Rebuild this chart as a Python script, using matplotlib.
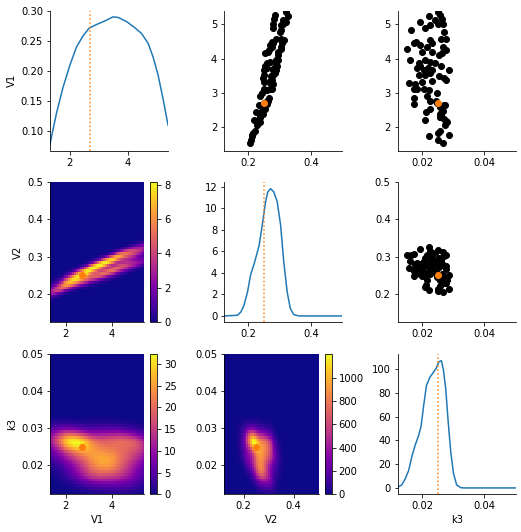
import numpy as np
import matplotlib
matplotlib.use("Agg")
import matplotlib.pyplot as plt

# --------------------------------------------------------------------------- #
# particles (the last rows sit under other dots)
# --------------------------------------------------------------------------- #
v1 = [5.35, 5.26, 5.23, 5.12, 5.16, 5.06, 4.97, 5.00, 5.02, 4.83,
      4.90, 4.78, 4.46, 4.49, 4.27, 4.40, 4.54, 4.46, 4.56, 4.57,
      4.35, 4.35, 4.20, 4.20, 4.25, 4.11, 4.16, 3.95, 3.87, 3.96,
      3.89, 3.87, 3.72, 3.77, 3.68, 3.72, 3.68, 3.77, 3.66, 3.53,
      3.53, 3.58, 3.50, 3.44, 3.37, 3.29, 3.25, 3.31, 3.34, 3.12,
      3.10, 3.10, 3.08, 3.01, 2.86, 2.91, 2.67, 2.77, 2.64, 2.53,
      2.43, 2.38, 2.29, 2.21, 2.14, 1.73, 1.83, 1.64, 1.55, 1.76,
      2.35, 2.62, 2.18, 2.30, 2.66, 2.42, 2.70,
      2.06, 2.25, 2.48, 2.58, 1.88, 2.75]
v2 = [0.319, 0.286, 0.326, 0.310, 0.281, 0.321, 0.304, 0.277, 0.311, 0.304,
      0.278, 0.301, 0.306, 0.276, 0.305, 0.270, 0.314, 0.279, 0.287, 0.305,
      0.276, 0.305, 0.263, 0.296, 0.266, 0.295, 0.253, 0.289, 0.260, 0.295,
      0.268, 0.287, 0.282, 0.252, 0.288, 0.258, 0.279, 0.292, 0.251, 0.280,
      0.249, 0.285, 0.272, 0.247, 0.274, 0.269, 0.279, 0.249, 0.270, 0.268,
      0.249, 0.275, 0.260, 0.245, 0.266, 0.238, 0.260, 0.262, 0.233, 0.254,
      0.224, 0.247, 0.237, 0.217, 0.237, 0.210, 0.214, 0.207, 0.205, 0.212,
      0.236, 0.240, 0.230, 0.238, 0.246, 0.241, 0.250,
      0.228, 0.233, 0.244, 0.247, 0.220, 0.258]
k3 = [0.0251, 0.0259, 0.0223, 0.0243, 0.0265, 0.0192, 0.0227, 0.0251, 0.0268, 0.0164,
      0.0211, 0.0270, 0.0173, 0.0182, 0.0153, 0.0195, 0.0227, 0.0232, 0.0262, 0.0276,
      0.0268, 0.0216, 0.0200, 0.0232, 0.0276, 0.0254, 0.0265, 0.0160, 0.0189, 0.0211,
      0.0227, 0.0243, 0.0184, 0.0195, 0.0205, 0.0218, 0.0232, 0.0262, 0.0286, 0.0189,
      0.0211, 0.0227, 0.0254, 0.0270, 0.0276, 0.0157, 0.0178, 0.0200, 0.0232, 0.0184,
      0.0173, 0.0205, 0.0222, 0.0249, 0.0173, 0.0216, 0.0173, 0.0227, 0.0270, 0.0227,
      0.0213, 0.0259, 0.0259, 0.0208, 0.0279, 0.0222, 0.0251, 0.0251, 0.0268, 0.0286,
      0.0261, 0.0268, 0.0276, 0.0257, 0.0272, 0.0262, 0.0249,
      0.0274, 0.0270, 0.0266, 0.0258, 0.0258, 0.0245]

names = ["V1", "V2", "k3"]
truth = [2.7, 0.25, 0.025]
limits = [(1.32, 5.4), (0.123, 0.5), (0.0122, 0.05)]

# marginal densities
v1_grid = [1.32, 1.54, 1.77, 2.00, 2.23, 2.46, 2.67, 2.92, 3.21, 3.50,
           3.68, 3.97, 4.25, 4.49, 4.72, 4.89, 5.06, 5.24, 5.40]
v1_dens = [0.078, 0.129, 0.173, 0.209, 0.240, 0.259, 0.272, 0.278, 0.284, 0.291,
           0.290, 0.283, 0.273, 0.263, 0.246, 0.223, 0.193, 0.151, 0.110]
v2_grid = [0.123, 0.165, 0.176, 0.186, 0.197, 0.207, 0.220, 0.234, 0.244, 0.255,
           0.262, 0.271, 0.281, 0.292, 0.303, 0.313, 0.324, 0.334, 0.345, 0.361, 0.5]
v2_dens = [0.0, 0.06, 0.37, 0.99, 2.2, 3.8, 5.0, 6.5, 8.4, 10.6,
           11.5, 11.8, 11.5, 10.6, 8.4, 5.0, 2.2, 0.68, 0.12, 0.0, 0.0]
k3_grid = [0.0122, 0.0135, 0.0146, 0.0157, 0.0168, 0.0178, 0.0189, 0.0197, 0.0205, 0.0214,
           0.0225, 0.0236, 0.0246, 0.0254, 0.0262, 0.0268, 0.0276, 0.0283, 0.0292, 0.0301,
           0.0311, 0.0324, 0.0335, 0.0500]
k3_dens = [0.6, 2.5, 7.6, 14.6, 27.0, 36.0, 44.0, 52.0, 69.0, 86.0,
           93.0, 97.0, 101.0, 106.0, 107.0, 100.0, 83.0, 58.0, 30.0, 11.8,
           2.5, 0.2, 0.0, 0.0]

yticks_diag = [np.arange(0.10, 0.31, 0.05), np.arange(0, 13, 2), np.arange(0, 101, 20)]
ticks = [[2, 4], [0.2, 0.4], [0.02, 0.04]]
yticks_off = [[2, 3, 4, 5], [0.2, 0.3, 0.4, 0.5], [0.02, 0.03, 0.04, 0.05]]
cbar_ticks = {(1, 0): [0, 2, 4, 6, 8],
              (2, 0): [0, 5, 10, 15, 20, 25, 30],
              (2, 1): [0, 200, 400, 600, 800, 1000]}

N_EFF = 45  # effective sample size used for the Silverman bandwidth


def kde_2d(x, y, xlim, ylim, num=50, n_eff=N_EFF):
    """Gaussian KDE (full covariance, Silverman) on a num x num grid."""
    pts = np.vstack([x, y])
    cov = np.cov(pts) * n_eff ** (-2.0 / 6.0)
    inv = np.linalg.inv(cov)
    norm = 1.0 / (2 * np.pi * np.sqrt(np.linalg.det(cov)))
    xs = np.linspace(*xlim, num)
    ys = np.linspace(*ylim, num)
    X, Y = np.meshgrid(xs, ys)
    d = np.stack([X.ravel(), Y.ravel()])[:, :, None] - pts[:, None, :]
    q = np.einsum("inj,ik,knj->nj", d, inv, d)
    pdf = norm * np.exp(-0.5 * q).mean(axis=1)
    return X, Y, pdf.reshape(X.shape)


W, H = 521, 532
fig = plt.figure(figsize=(W / 72, H / 72), dpi=72)
col_left = [50, 224.3, 397.7]
row_top = [10.5, 182.3, 354.3]
aw, ah = 118, 140

data = [np.array(v1), np.array(v2), np.array(k3)]
diag = [(v1_grid, v1_dens), (v2_grid, v2_dens), (k3_grid, k3_dens)]

axes = {}
for i in range(3):
    for j in range(3):
        rect = [col_left[j] / W, 1 - (row_top[i] + ah) / H, aw / W, ah / H]
        axes[i, j] = fig.add_axes(rect)

for i in range(3):
    for j in range(3):
        ax = axes[i, j]
        if i == j:
            gx, gy = diag[i]
            ax.plot(gx, gy, color="C0")
            ax.axvline(truth[i], color="C1", linestyle="dotted")
            ax.set_xlim(*limits[i])
            ax.set_yticks(yticks_diag[i])
        elif i < j:
            # upper triangle: x = param j, y = param i
            ax.scatter(data[j], data[i], color="k")
            ax.scatter([truth[j]], [truth[i]], color="C1")
            ax.set_xlim(*limits[j])
            ax.set_ylim(*limits[i])
            ax.set_yticks(yticks_off[i])
        else:
            # lower triangle: kde heatmap, x = param j, y = param i
            X, Y, P = kde_2d(data[j], data[i], limits[j], limits[i])
            mesh = ax.pcolormesh(X, Y, P, cmap="plasma", shading="auto")
            ax.scatter([truth[j]], [truth[i]], color="C1")
            ax.set_xlim(*limits[j])
            ax.set_ylim(*limits[i])
            ax.set_yticks(yticks_off[i])
            cb = fig.colorbar(mesh, ax=ax)
            cb.set_ticks(cbar_ticks[i, j])
        ax.set_xticks(ticks[j])
        ax.spines["top"].set_visible(False)
        ax.spines["right"].set_visible(False)
        if j == 0:
            ax.set_ylabel(names[i])
        if i == 2:
            ax.set_xlabel(names[j])

fig.savefig("out.png", dpi=72)
